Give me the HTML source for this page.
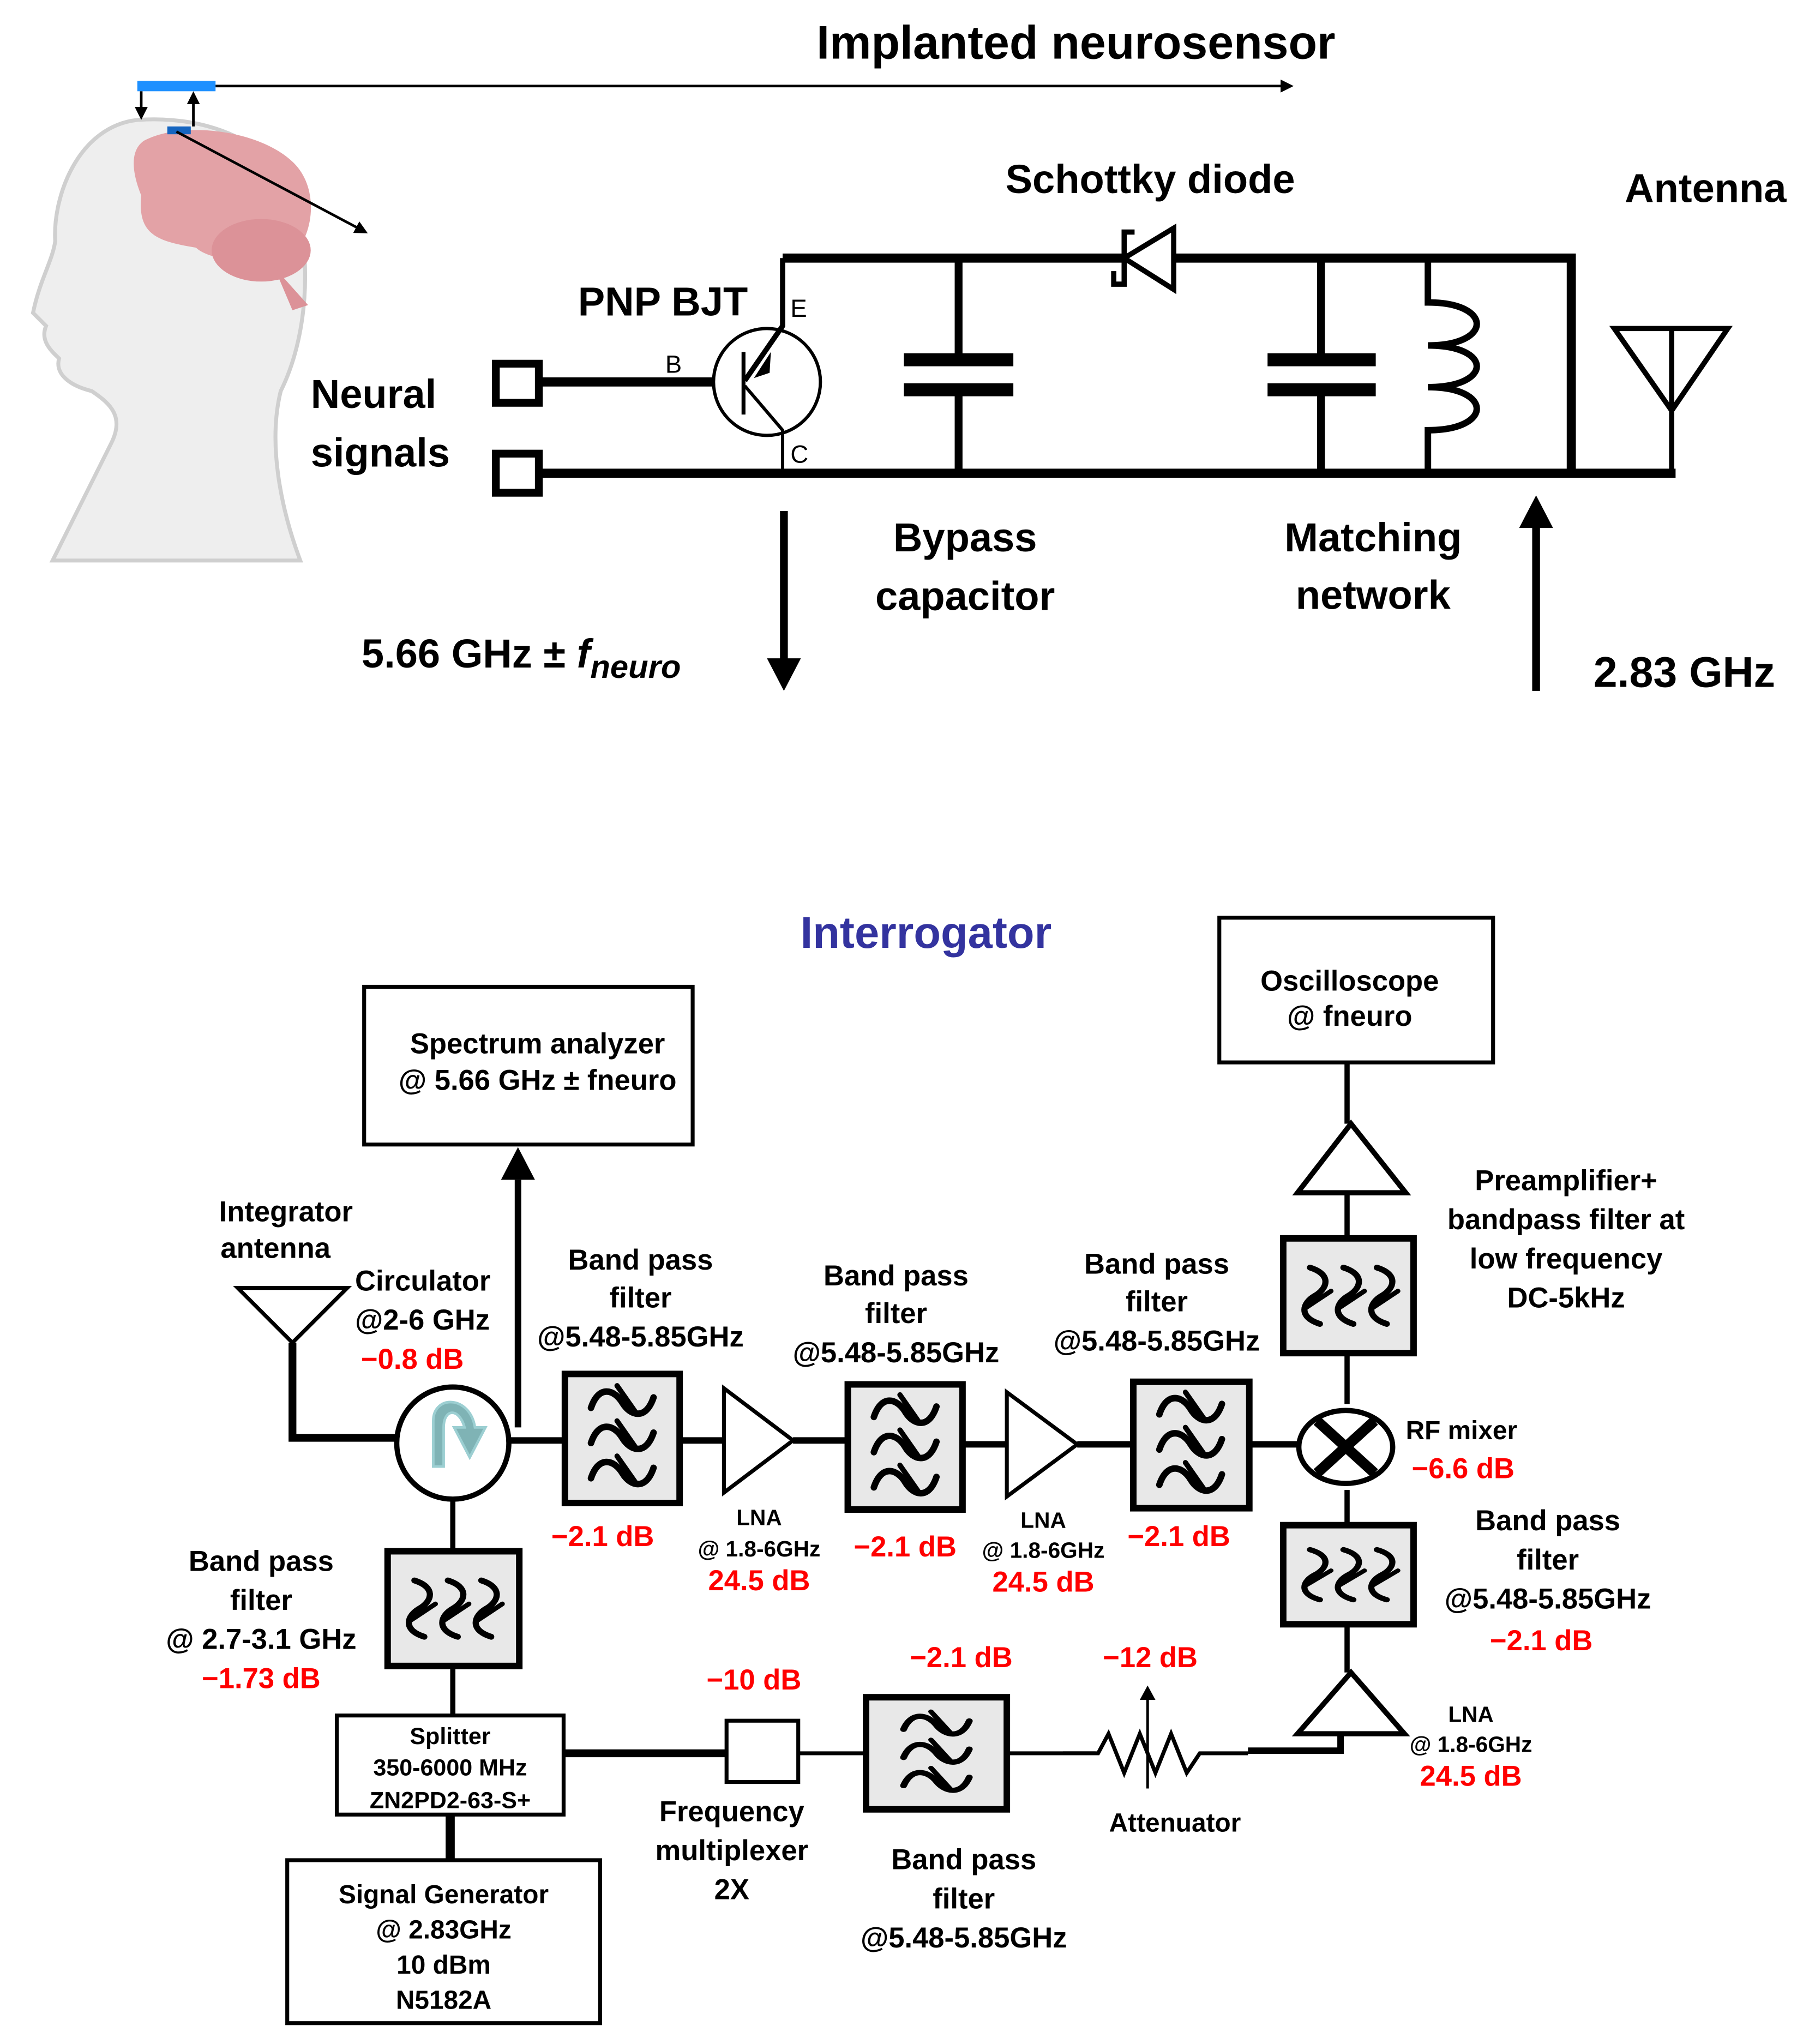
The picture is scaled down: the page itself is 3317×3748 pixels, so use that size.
<!DOCTYPE html>
<html><head><meta charset="utf-8"><style>
html,body{margin:0;padding:0;background:#fff;}
svg{display:block;}
text{font-family:"Liberation Sans",Arial,sans-serif;font-weight:bold;}
</style></head><body>
<svg width="3317" height="3748" viewBox="0 0 1387 1568" xmlns="http://www.w3.org/2000/svg">
<defs>
<marker id="ah" markerWidth="10" markerHeight="10" refX="8" refY="5" orient="auto" markerUnits="userSpaceOnUse"><path d="M0,0 L10,5 L0,10 z" fill="#000"/></marker>
<g id="wh" fill="none" stroke="#000" stroke-width="5" stroke-linecap="round">
<path d="M-24,4 C-18,-14 -6,-10 0,0 C6,10 18,14 24,-4"/>
<path d="M-24,4 C-18,-14 -6,-10 0,0 C6,10 18,14 24,-4" transform="translate(0,-27)"/>
<path d="M-24,4 C-18,-14 -6,-10 0,0 C6,10 18,14 24,-4" transform="translate(0,27)"/>
<path d="M-4,-40 L10,-20 M-4,-13 L10,7 M-4,14 L10,34" stroke-width="4"/>
</g>
<g id="wv"><use href="#wh" transform="rotate(90)"/></g>
</defs>

<!-- Head illustration -->
<path d="M105,92 C60,97 40,150 42,185 C40,200 30,215 25,240 L35,250 C30,262 40,270 45,275 C42,285 50,295 70,300 C85,310 95,320 85,340 L40,430 L230,430 C215,390 205,340 215,300 C235,260 240,200 225,150 C210,110 160,88 105,92 z" fill="#eeeeee" stroke="#cfcfcf" stroke-width="3"/>
<path d="M110,108 C140,92 200,100 225,125 C245,145 240,180 225,195 C200,205 160,200 150,190 C120,185 105,180 108,150 C100,130 100,115 110,108 z" fill="#e3a2a6"/>
<ellipse cx="200" cy="192" rx="38" ry="24" fill="#dc9298"/>
<path d="M210,205 L236,234 L224,238 Z" fill="#dc9298"/>
<rect x="105" y="62" width="60" height="8" fill="#1e90ff"/>
<rect x="128" y="97" width="18" height="6" fill="#1565c0"/>
<line x1="108" y1="70" x2="108" y2="90" stroke="#000" stroke-width="2" marker-end="url(#ah)"/>
<line x1="148" y1="97" x2="148" y2="72" stroke="#000" stroke-width="2" marker-end="url(#ah)"/>
<line x1="165" y1="66" x2="990" y2="66" stroke="#000" stroke-width="2" marker-end="url(#ah)"/>
<line x1="135" y1="101" x2="280" y2="178" stroke="#000" stroke-width="2" marker-end="url(#ah)"/>
<text x="825" y="45" font-size="36" text-anchor="middle">Implanted neurosensor</text>

<!-- Circuit -->
<g stroke="#000" fill="none">
<path d="M600,198 H862 M900,198 H1205 V363" stroke-width="7"/>
<path d="M415,363 H1285" stroke-width="7"/>
<rect x="380" y="279" width="33" height="30" stroke-width="6" fill="#fff"/>
<rect x="380" y="348" width="33" height="30" stroke-width="6" fill="#fff"/>
<path d="M413,293 H548" stroke-width="7"/>
<circle cx="588" cy="293" r="41" stroke-width="2.5"/>
<path d="M570,270 V318" stroke-width="3"/>
<path d="M600,198 V250 L571,292" stroke-width="4"/>
<path d="M571,296 L600,330 V363" stroke-width="2.5"/>
<path d="M735,198 V276 M735,299 V363" stroke-width="6"/>
<path d="M693,276 H777 M693,299 H777" stroke-width="10"/>
<path d="M1013,198 V276 M1013,299 V363" stroke-width="6"/>
<path d="M972,276 H1055 M972,299 H1055" stroke-width="10"/>
<path d="M1095,198 V232 C1145,232 1145,265 1095,265 C1145,265 1145,297 1095,297 C1145,297 1145,330 1095,330 V363" stroke-width="5"/>
<path d="M1238,252 H1325 L1282,315 Z M1282,252 V363" stroke-width="4"/>
<path d="M900,175 V222 L862,198 Z" stroke-width="4" fill="#fff"/>
<path d="M870,178 H862 V218 H854 V208" stroke-width="4"/>
<path d="M1178,530 V400" stroke-width="6"/>
<path d="M601,392 V510" stroke-width="6"/>
</g>
<path d="M591,270 L578,290 L590,286 Z" fill="#000"/>
<path d="M1165,405 L1178,380 L1191,405 Z" fill="#000"/>
<path d="M588,505 L601,530 L614,505 Z" fill="#000"/>
<text x="606" y="243" font-size="19" style="font-weight:normal">E</text>
<text x="510" y="286" font-size="19" style="font-weight:normal">B</text>
<text x="606" y="355" font-size="19" style="font-weight:normal">C</text>
<g font-size="31">
<text x="443" y="242">PNP BJT</text>
<text x="882" y="148" text-anchor="middle">Schottky diode</text>
<text x="1308" y="155" text-anchor="middle">Antenna</text>
<text x="238" y="313">Neural</text>
<text x="238" y="358">signals</text>
<text x="740" y="423" text-anchor="middle">Bypass</text>
<text x="740" y="468" text-anchor="middle">capacitor</text>
<text x="1053" y="423" text-anchor="middle">Matching</text>
<text x="1053" y="467" text-anchor="middle">network</text>
<text x="277" y="512">5.66 GHz ± <tspan font-style="italic">f</tspan><tspan font-style="italic" font-size="25" dy="8">neuro</tspan></text>
<text x="1222" y="527" font-size="33">2.83 GHz</text>
</g>

<!-- Interrogator -->
<text x="710" y="727" font-size="34" fill="#33339f" text-anchor="middle">Interrogator</text>
<g stroke="#000" fill="none">
<rect x="279" y="757" width="252" height="121" stroke-width="3"/>
<rect x="935" y="704" width="210" height="111" stroke-width="3"/>
<rect x="258" y="1316" width="174" height="76" stroke-width="3"/>
<rect x="220" y="1427" width="240" height="125" stroke-width="3"/>
<path d="M397,1095 V905" stroke-width="5"/>
<path d="M1033,815 V862 M1033,915 V950 M1033,1038 V1077 M1033,1143 V1170 M1033,1246 V1283" stroke-width="4"/>
<path d="M995,915 H1078 L1036,862 Z" stroke-width="4" fill="#fff"/>
<path d="M995,1330 H1077 L1036,1283 Z" stroke-width="4" fill="#fff"/>
<path d="M1028,1330 V1343 H957" stroke-width="5"/>
<path d="M182,988 H266 L224,1030 Z" stroke-width="3"/>
<path d="M224,1030 V1103 H304" stroke-width="6"/>
<path d="M390,1105 H433 M521,1105 H555 M608,1105 H650 M738,1108 H772 M826,1108 H869 M958,1108 H999" stroke-width="5"/>
<path d="M555,1065 V1145 L608,1105 Z" stroke-width="3" fill="#fff"/>
<path d="M772,1068 V1148 L826,1108 Z" stroke-width="3" fill="#fff"/>
<path d="M347,1150 V1190 M347,1278 V1316" stroke-width="4"/>
<path d="M345,1392 V1427" stroke-width="7"/>
<path d="M432,1345 H557" stroke-width="6"/>
<rect x="557" y="1320" width="55" height="47" stroke-width="3"/>
<path d="M612,1345 H664 M772,1345 H840" stroke-width="3"/>
<path d="M815,1345 H842 L850,1330 L862,1360 L874,1330 L886,1360 L898,1330 L910,1360 L920,1345 H957" stroke-width="3"/>
<path d="M880,1372 V1300" stroke-width="2"/>
</g>
<path d="M874,1304 L880,1293 L886,1304 Z" fill="#000"/>
<path d="M384,905 L397,880 L410,905 Z" fill="#000"/>
<circle cx="347" cy="1107" r="43" fill="#fff" stroke="#000" stroke-width="4"/>
<path d="M332,1125 V1090 C332,1070 360,1070 364,1095 L372,1095 L360,1118 L348,1095 L356,1095 C352,1080 340,1080 340,1095 V1125 Z" fill="#7fb3b5" stroke="#9ccfd2" stroke-width="2"/>
<ellipse cx="1032" cy="1110" rx="36" ry="28" fill="#fff" stroke="#000" stroke-width="4"/>
<path d="M1010,1090 L1054,1130 M1054,1090 L1010,1130" stroke="#000" stroke-width="8"/>
<g fill="#e8e8e8" stroke="#000" stroke-width="5">
<rect x="433" y="1054" width="88" height="99"/>
<rect x="650" y="1062" width="88" height="96"/>
<rect x="869" y="1060" width="89" height="97"/>
<rect x="297" y="1190" width="101" height="88"/>
<rect x="984" y="950" width="100" height="88"/>
<rect x="984" y="1170" width="100" height="76"/>
<rect x="664" y="1302" width="108" height="86"/>
</g>
<use href="#wh" transform="translate(477,1103)"/>
<use href="#wh" transform="translate(694,1110)"/>
<use href="#wh" transform="translate(913,1108)"/>
<use href="#wh" transform="translate(718,1345) scale(1.05,0.8)"/>
<use href="#wv" transform="translate(347,1234) scale(0.95,0.9)"/>
<use href="#wv" transform="translate(1034,994) scale(0.95,0.9)"/>
<use href="#wv" transform="translate(1034,1208) scale(0.95,0.8)"/>

<g font-size="22" text-anchor="middle">
<text x="412" y="808">Spectrum analyzer</text>
<text x="412" y="836">@ 5.66 GHz ± fneuro</text>
<text x="1035" y="760">Oscilloscope</text>
<text x="1035" y="787">@ fneuro</text>
<text x="219" y="937">Integrator</text>
<text x="211" y="965">antenna</text>
<text x="491" y="974">Band pass</text><text x="491" y="1003">filter</text><text x="491" y="1033">@5.48-5.85GHz</text>
<text x="687" y="986">Band pass</text><text x="687" y="1015">filter</text><text x="687" y="1045">@5.48-5.85GHz</text>
<text x="887" y="977">Band pass</text><text x="887" y="1006">filter</text><text x="887" y="1036">@5.48-5.85GHz</text>
<text x="1201" y="913">Preamplifier+</text><text x="1201" y="943">bandpass filter at</text><text x="1201" y="973">low frequency</text><text x="1201" y="1003">DC-5kHz</text>
<text x="1187" y="1174">Band pass</text><text x="1187" y="1204">filter</text><text x="1187" y="1234">@5.48-5.85GHz</text>
<text x="200" y="1205">Band pass</text><text x="200" y="1235">filter</text><text x="200" y="1265">@ 2.7-3.1 GHz</text>
<text x="561" y="1397">Frequency</text><text x="561" y="1427">multiplexer</text><text x="561" y="1457">2X</text>
<text x="739" y="1434">Band pass</text><text x="739" y="1464">filter</text><text x="739" y="1494">@5.48-5.85GHz</text>
<text x="901" y="1405" font-size="20">Attenuator</text>
<text x="340" y="1460" font-size="20">Signal Generator</text>
<text x="340" y="1487" font-size="20">@ 2.83GHz</text>
<text x="340" y="1514" font-size="20">10 dBm</text>
<text x="340" y="1541" font-size="20">N5182A</text>
<text x="345" y="1338" font-size="18">Splitter</text>
<text x="345" y="1362" font-size="18">350-6000 MHz</text>
<text x="345" y="1387" font-size="18">ZN2PD2-63-S+</text>
<text x="582" y="1170" font-size="17">LNA</text><text x="582" y="1194" font-size="17">@ 1.8-6GHz</text>
<text x="800" y="1172" font-size="17">LNA</text><text x="800" y="1195" font-size="17">@ 1.8-6GHz</text>
<text x="1128" y="1321" font-size="17">LNA</text><text x="1128" y="1344" font-size="17">@ 1.8-6GHz</text>
</g>
<g font-size="22" text-anchor="start">
<text x="272" y="990">Circulator</text>
<text x="272" y="1020">@2-6 GHz</text>
<text x="1078" y="1104" font-size="20">RF mixer</text>
</g>
<g font-size="22" fill="#ff0000" text-anchor="middle">
<text x="316" y="1050">−0.8 dB</text>
<text x="1122" y="1134">−6.6 dB</text>
<text x="1182" y="1266">−2.1 dB</text>
<text x="1128" y="1370">24.5 dB</text>
<text x="462" y="1186">−2.1 dB</text>
<text x="582" y="1220">24.5 dB</text>
<text x="694" y="1194">−2.1 dB</text>
<text x="800" y="1221">24.5 dB</text>
<text x="904" y="1186">−2.1 dB</text>
<text x="200" y="1295">−1.73 dB</text>
<text x="578" y="1296">−10 dB</text>
<text x="737" y="1279">−2.1 dB</text>
<text x="882" y="1279">−12 dB</text>
</g>
</svg>
</body></html>
